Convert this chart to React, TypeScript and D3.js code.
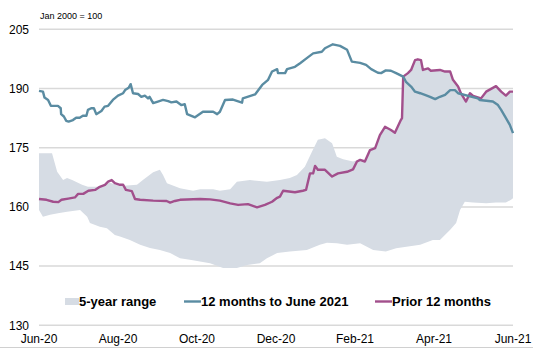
import React from "react";
import * as d3 from "d3";

// x = months since Jun-20 (0..12), y = index (Jan 2000 = 100)
const xTickLabels = ["Jun-20", "Aug-20", "Oct-20", "Dec-20", "Feb-21", "Apr-21", "Jun-21"];
const xTickMonths = [0, 2, 4, 6, 8, 10, 12];
const yTicks = [130, 145, 160, 175, 190, 205];

const current: [number, number][] = [
  [0, 189.4], [0.1, 189.2], [0.14, 187.7], [0.23, 187.1], [0.3, 185.6], [0.48, 185.6], [0.55, 185.0],
  [0.56, 183.5], [0.63, 182.9], [0.69, 181.8], [0.75, 181.6], [0.86, 182.0], [0.94, 182.6], [1.03, 182.6],
  [1.11, 183.1], [1.2, 183.1], [1.24, 184.6], [1.32, 185.0], [1.39, 185.0], [1.45, 183.5], [1.58, 184.3],
  [1.66, 185.4], [1.75, 185.6], [1.87, 187.1], [2.0, 188.2], [2.13, 188.8], [2.18, 189.6], [2.27, 190.2],
  [2.32, 191.1], [2.38, 188.8], [2.51, 188.6], [2.59, 187.9], [2.68, 188.2], [2.76, 187.5], [2.8, 187.9],
  [2.89, 186.3], [3.01, 186.7], [3.14, 187.1], [3.27, 186.8], [3.35, 186.5], [3.48, 186.7], [3.6, 185.8],
  [3.69, 186.0], [3.75, 183.5], [3.95, 182.7], [4.15, 184.1], [4.41, 184.1], [4.51, 183.5], [4.58, 184.1],
  [4.71, 187.1], [4.91, 187.2], [5.14, 186.4], [5.16, 187.5], [5.47, 188.5], [5.65, 190.9], [5.8, 192.2],
  [5.9, 194.3], [6.03, 194.9], [6.05, 193.9], [6.23, 193.9], [6.28, 194.9], [6.48, 195.5], [6.61, 196.4],
  [6.78, 197.7], [6.94, 198.9], [7.16, 199.3], [7.24, 200.2], [7.44, 201.2], [7.62, 200.8], [7.8, 199.8],
  [7.92, 196.8], [8.13, 196.5], [8.28, 196.0], [8.41, 194.9], [8.58, 194.0], [8.66, 193.9], [8.78, 194.6],
  [8.91, 194.5], [9.04, 193.9], [9.22, 193.0], [9.29, 191.7], [9.42, 190.5], [9.52, 189.2], [9.65, 188.8],
  [9.77, 188.4], [9.9, 187.9], [10.03, 187.3], [10.15, 187.9], [10.28, 188.4], [10.41, 189.6], [10.53, 189.6],
  [10.61, 188.8], [11.11, 187.5], [11.16, 187.1], [11.49, 186.7], [11.62, 185.8], [11.7, 184.6], [11.8, 182.9],
  [11.92, 180.8], [12.0, 178.7],
];

const prior: [number, number][] = [
  [0, 162.0], [0.19, 161.8], [0.36, 161.3], [0.49, 161.2], [0.57, 161.8], [0.74, 162.1], [0.91, 162.4],
  [0.99, 163.3], [1.12, 163.3], [1.25, 164.1], [1.42, 164.3], [1.54, 165.1], [1.67, 165.6], [1.75, 166.4],
  [1.84, 166.8], [1.92, 166.0], [2.05, 165.6], [2.13, 165.6], [2.2, 164.3], [2.35, 164.0], [2.43, 162.0],
  [2.56, 161.8], [2.89, 161.6], [3.23, 161.5], [3.32, 161.1], [3.44, 161.5], [3.57, 161.8], [4.08, 162.0],
  [4.33, 161.9], [4.58, 161.6], [4.84, 160.9], [5.04, 160.5], [5.29, 160.7], [5.52, 159.9], [5.72, 160.5],
  [5.9, 161.3], [6.03, 162.3], [6.1, 162.6], [6.18, 164.1], [6.48, 163.7], [6.68, 164.1], [6.76, 164.3],
  [6.86, 168.5], [6.94, 168.5], [6.99, 170.4], [7.06, 169.4], [7.24, 169.4], [7.42, 167.7], [7.57, 168.5],
  [7.8, 168.9], [7.95, 169.5], [8.05, 171.5], [8.13, 171.9], [8.25, 171.5], [8.38, 174.4], [8.51, 174.9],
  [8.63, 178.2], [8.76, 180.3], [8.91, 179.5], [9.01, 178.8], [9.16, 182.0], [9.19, 182.5], [9.22, 193.0],
  [9.34, 193.9], [9.42, 194.7], [9.52, 197.2], [9.59, 197.4], [9.67, 197.2], [9.72, 194.7], [9.85, 195.1],
  [9.92, 194.5], [10.15, 194.7], [10.28, 194.3], [10.41, 194.3], [10.48, 192.2], [10.61, 190.5], [10.68, 188.8],
  [10.81, 186.7], [10.91, 188.8], [10.99, 188.1], [11.19, 187.5], [11.32, 189.2], [11.57, 190.6], [11.7, 189.2],
  [11.82, 188.2], [11.92, 189.2], [12.0, 189.2],
];

const rangeUpper: [number, number][] = [
  [0, 173.6], [0.33, 173.6], [0.46, 168.9], [0.61, 166.8], [0.71, 167.3], [0.84, 166.8], [1.09, 165.6],
  [1.24, 165.1], [1.47, 165.1], [1.8, 166.1], [2.05, 165.3], [2.48, 165.6], [2.63, 166.8], [2.89, 168.8],
  [3.06, 169.4], [3.14, 168.1], [3.24, 166.0], [3.57, 164.7], [3.9, 164.1], [4.08, 164.5], [4.41, 164.5],
  [4.58, 164.1], [4.84, 164.5], [5.01, 166.4], [5.34, 166.8], [5.77, 166.4], [6.1, 166.8], [6.35, 167.3],
  [6.53, 168.1], [6.73, 170.2], [6.91, 174.0], [7.06, 177.0], [7.24, 177.4], [7.42, 176.1], [7.54, 172.7],
  [7.7, 172.1], [7.95, 171.5], [8.13, 172.1], [8.25, 171.5], [8.38, 174.4], [8.51, 174.9], [8.63, 178.2],
  [8.76, 180.3], [8.91, 179.5], [9.01, 178.8], [9.16, 182.0], [9.19, 182.5], [9.22, 193.0], [9.34, 193.9],
  [9.42, 194.7], [9.52, 197.2], [9.59, 197.4], [9.67, 197.2], [9.72, 194.7], [9.85, 195.1], [9.92, 194.5],
  [10.15, 194.7], [10.28, 194.3], [10.41, 194.3], [10.48, 192.2], [10.61, 190.5], [10.68, 188.8], [10.81, 186.7],
  [10.91, 188.8], [10.99, 188.1], [11.19, 187.5], [11.32, 189.2], [11.57, 190.6], [11.7, 189.2], [11.82, 188.2],
  [11.92, 189.2], [12.0, 189.2],
];

const rangeLower: [number, number][] = [
  [0, 159.2], [0.1, 157.5], [0.28, 158.0], [0.48, 158.4], [0.71, 158.8], [1.04, 159.2], [1.22, 157.5],
  [1.29, 155.9], [1.54, 155.0], [1.72, 154.6], [1.92, 152.9], [2.05, 152.5], [2.3, 151.6], [2.56, 150.4],
  [2.81, 149.6], [3.06, 149.1], [3.32, 148.3], [3.57, 147.0], [3.82, 146.6], [4.33, 145.7], [4.66, 144.5],
  [5.01, 144.5], [5.27, 145.3], [5.59, 145.7], [5.77, 147.0], [6.03, 148.3], [6.35, 148.7], [6.78, 149.1],
  [7.11, 150.4], [7.29, 150.9], [7.54, 150.8], [7.8, 150.4], [8.13, 150.8], [8.46, 149.1], [8.78, 148.7],
  [9.04, 149.5], [9.65, 150.4], [9.97, 151.6], [10.15, 151.6], [10.41, 154.2], [10.56, 155.9], [10.66, 159.2],
  [10.78, 161.3], [10.99, 161.1], [11.32, 160.9], [11.57, 161.1], [11.82, 161.1], [11.95, 161.8], [12.0, 162.2],
];

const legendItems = [
  { label: "5-year range", kind: "area" },
  { label: "12 months to June 2021", kind: "current" },
  { label: "Prior 12 months", kind: "prior" },
];

const W = 533;
const H = 348;
const TEAL = "#5a8ca2";
const PURPLE = "#a24f8c";
const BAND = "#d6dce4";
const GRID = "#d9d9d9";
const FONT = "'Liberation Sans', Arial, sans-serif";

export default function App() {
  const x = d3.scaleLinear().domain([0, 12]).range([39, 513]);
  const y = d3.scaleLinear().domain([130, 205]).range([325.3, 29.3]);
  const line = d3.line<[number, number]>().x((d) => x(d[0])).y((d) => y(d[1]));
  const bandPath = line([...rangeUpper, ...rangeLower.slice().reverse()]) + "Z";

  const legendX = [65, 184, 375];

  return (
    <svg width={W} height={H} style={{ position: "absolute", left: 0, top: 0, background: "#fff" }}>
      <text x={40} y={18.5} fontSize={9} fontFamily={FONT} fill="#000">Jan 2000 = 100</text>
      {yTicks.map((t) => (
        <g key={t}>
          <line x1={39} x2={513} y1={y(t)} y2={y(t)} stroke={GRID} strokeWidth={1.5} />
          <text x={29} y={y(t) + 4.3} fontSize={12} fontFamily={FONT} textAnchor="end" fill="#000">{t}</text>
        </g>
      ))}
      <path d={bandPath} fill={BAND} stroke="none" />
      <path d={line(prior) || ""} fill="none" stroke={PURPLE} strokeWidth={2.4} strokeLinejoin="round" />
      <path d={line(current) || ""} fill="none" stroke={TEAL} strokeWidth={2.4} strokeLinejoin="round" />
      {xTickMonths.map((m, i) => (
        <text key={m} x={x(m)} y={343} fontSize={12} fontFamily={FONT} textAnchor="middle" fill="#000">{xTickLabels[i]}</text>
      ))}
      {legendItems.map((it, i) => (
        <g key={it.label}>
          {it.kind === "area" ? (
            <rect x={legendX[i]} y={298} width={14} height={7} fill={BAND} />
          ) : (
            <line x1={legendX[i]} x2={legendX[i] + 17} y1={301.5} y2={301.5} stroke={it.kind === "current" ? TEAL : PURPLE} strokeWidth={2.4} />
          )}
          <text x={legendX[i] + (it.kind === "area" ? 14 : 17)} y={306} fontSize={13} fontWeight="bold" fontFamily={FONT} fill="#000">{it.label}</text>
        </g>
      ))}
      <line x1={0} x2={W} y1={347.5} y2={347.5} stroke="#d0d0d0" strokeWidth={1} />
    </svg>
  );
}
